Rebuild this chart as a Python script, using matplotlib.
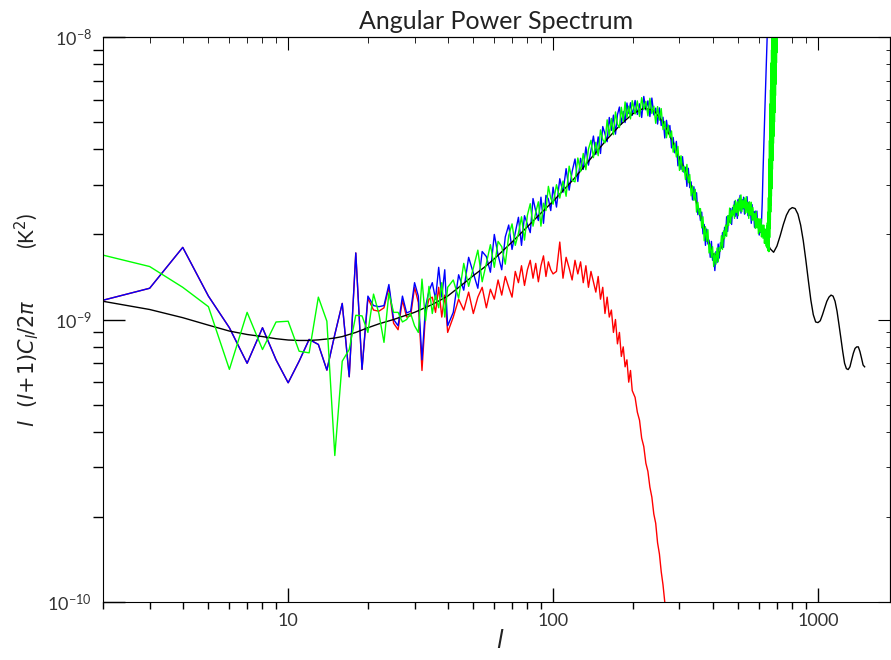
import numpy as np
import matplotlib.pyplot as plt
from matplotlib import ticker

plt.rcParams['font.family'] = ['Lato', 'DejaVu Sans']
plt.rcParams['mathtext.fontset'] = 'dejavusans'

# multipoles of the measured spectra
ell = np.concatenate([np.arange(2, 41), np.arange(42, 101, 2),
                      np.arange(103, 200, 3), np.arange(204, 641, 4)])

# values in units of 1e-9 K^2
blue = [1.17, 1.29, 1.80, 1.21, 0.935, 0.70, 0.935, 0.72, 0.597, 0.712,
        0.85, 0.816, 0.662, 0.885, 1.14, 0.627, 1.72, 0.666, 1.21, 1.12,
        1.11, 1.12, 1.33, 1.00, 0.95, 1.21, 1.055, 1.07, 1.35, 1.21,
        0.72, 1.11, 1.26, 1.35, 1.18, 1.53, 1.20, 1.50, 0.95,
        # 42..100
        1.06, 1.44, 1.27, 1.66, 1.46, 1.29, 1.74, 1.67, 1.47, 2.00,
        1.69, 1.50, 1.96, 2.16, 1.77, 2.03, 2.30, 1.83, 2.33, 2.17,
        2.03, 2.68, 2.42, 2.24, 2.71, 2.19, 2.75, 2.67, 2.43, 2.94,
        # 103..199
        2.50, 3.15, 2.82, 3.42, 2.87, 3.34, 3.70, 3.08, 3.72, 3.40,
        4.08, 3.52, 3.96, 4.46, 3.84, 4.43, 3.87, 4.82, 4.54, 4.26,
        5.19, 4.67, 5.29, 4.53, 5.31, 5.65, 4.91, 5.45, 4.98, 5.84,
        5.36, 5.85, 5.28,
        # 204..640
        5.96, 5.32, 5.80, 5.19, 6.16, 5.52, 5.94, 5.23, 6.08, 5.30,
        5.60, 4.92, 5.61, 4.86, 5.20, 4.39, 5.07, 4.56, 4.86, 4.05,
        4.41, 3.89, 4.27, 3.50, 3.77, 3.40, 3.77, 3.32, 3.46, 2.96,
        3.43, 2.93, 3.07, 2.65, 2.95, 2.65, 2.81, 2.35, 2.47, 2.24,
        2.40, 2.01, 2.17, 1.83, 2.09, 1.85, 1.91, 1.66, 1.89, 1.62,
        1.70, 1.49, 1.74, 1.59, 1.85, 1.65, 1.87, 1.79, 2.03, 1.80,
        2.12, 1.98, 2.31, 2.05, 2.33, 2.21, 2.47, 2.17, 2.49, 2.35,
        2.62, 2.32, 2.54, 2.28, 2.66, 2.49, 2.75, 2.38, 2.66, 2.46,
        2.71, 2.36, 2.63, 2.46, 2.72, 2.33, 2.60, 2.34, 2.49, 2.19,
        2.55, 2.26, 2.41, 2.12, 2.42, 2.12, 2.42, 2.12, 2.22, 1.99,
        2.25, 2.03, 2.21, 2.60, 3.30, 4.00, 4.90, 6.00, 7.30, 8.80]
blue_tail_ell = [644, 648, 652, 656]
blue_tail = [10.5, 12.5, 15.0, 18.0]

green = [1.69, 1.54, 1.30, 1.11, 0.666, 1.06, 0.783, 0.98, 0.986, 0.772,
         0.762, 1.20, 0.986, 0.33, 0.712, 0.783, 1.035, 1.03, 0.90, 1.23,
         1.05, 0.83, 1.24, 1.06, 1.06, 0.98, 1.00, 1.05, 0.95, 0.90,
         1.39, 0.99, 1.31, 1.05, 1.22, 1.10, 1.35, 1.02, 1.30,
         # 42..100
         1.38, 1.19, 1.58, 1.31, 1.52, 1.76, 1.36, 1.58, 1.84, 1.53,
         1.89, 1.81, 1.57, 1.98, 2.18, 1.83, 2.02, 2.31, 1.91, 2.34,
         2.57, 2.14, 2.39, 2.61, 2.14, 2.58, 2.43, 2.96, 2.69, 2.56,
         # 103..199
         3.00, 2.69, 3.09, 2.73, 3.49, 3.11, 3.07, 3.73, 3.34, 3.87,
         3.39, 4.01, 4.31, 3.74, 4.24, 3.80, 4.69, 4.33, 4.22, 5.09,
         4.48, 5.15, 4.51, 5.43, 4.91, 4.78, 5.64, 5.03, 5.89, 5.19,
         5.69, 5.13, 5.95,
         # 204..640
         5.34, 5.94, 5.23, 6.10, 5.53, 5.92, 5.26, 6.07, 5.36, 5.69,
         4.95, 5.67, 5.08, 5.58, 4.70, 5.03, 4.40, 4.88, 4.41, 4.65,
         3.91, 4.21, 3.76, 4.10, 3.37, 3.80, 3.34, 3.49, 3.13, 3.54,
         3.05, 3.26, 2.74, 2.97, 2.64, 2.89, 2.40, 2.60, 2.35, 2.47,
         2.11, 2.31, 1.90, 2.13, 1.89, 2.08, 1.72, 1.85, 1.66, 1.81,
         1.54, 1.72, 1.57, 1.79, 1.60, 1.80, 1.75, 1.98, 1.77, 2.06,
         1.94, 2.16, 1.97, 2.33, 2.15, 2.48, 2.19, 2.43, 2.32, 2.54,
         2.28, 2.64, 2.39, 2.61, 2.33, 2.69, 2.42, 2.76, 2.41, 2.64,
         2.48, 2.69, 2.37, 2.72, 2.39, 2.60, 2.28, 2.61, 2.34, 2.60,
         2.24, 2.49, 2.25, 2.37, 2.10, 2.41, 2.11, 2.28, 2.01, 2.27,
         2.04, 2.27, 1.96, 2.16, 1.94, 2.16, 1.86, 2.09, 1.82, 2.02]
green_tail_ell = np.arange(642, 705)
green_tail = [2.15, 1.80, 2.20, 1.78, 2.28, 1.76, 2.40, 1.75, 2.70, 1.74,
              3.05, 1.74, 3.70, 1.85, 4.30, 1.95, 5.00, 2.10, 5.80, 2.25,
              6.50, 2.40, 7.40, 2.55, 8.10, 2.73, 9.00, 2.90, 10.0, 3.10,
              11.0, 3.40, 12.0, 3.65, 13.0, 3.90, 14.0, 4.20, 15.0, 4.45,
              16.0, 4.70, 17.0, 5.00, 18.0, 5.40, 19.0, 5.80, 20.0, 6.20,
              21.0, 6.80, 22.0, 7.40, 23.0, 8.10, 25.0, 8.80, 27.0, 9.50,
              28.0, 10.5, 30.0]

red = [1.17, 1.29, 1.80, 1.21, 0.935, 0.70, 0.935, 0.72, 0.597, 0.712,
       0.85, 0.816, 0.662, 0.885, 1.14, 0.627, 1.72, 0.666, 1.19, 1.08,
       1.07, 1.10, 1.30, 0.97, 0.92, 1.17, 1.02, 1.03, 1.30, 1.15,
       0.66, 1.05, 1.18, 1.20, 1.06, 1.30, 1.02, 1.22, 0.90,
       # 42..100
       1.02, 1.18, 1.08, 1.25, 1.05, 1.20, 1.30, 1.10, 1.28, 1.18,
       1.38, 1.22, 1.42, 1.30, 1.20, 1.48, 1.35, 1.55, 1.32, 1.50,
       1.62, 1.40, 1.58, 1.36, 1.55, 1.68, 1.42, 1.60, 1.50, 1.45,
       # 103..199
       1.48, 1.88, 1.40, 1.66, 1.52, 1.38, 1.62, 1.45, 1.60, 1.35,
       1.55, 1.30, 1.48, 1.36, 1.25, 1.42, 1.18, 1.30, 1.05, 1.20,
       1.02, 1.08, 0.90, 1.00, 0.82, 0.90, 0.74, 0.80, 0.68, 0.72,
       0.60, 0.66, 0.56,
       # 204..268
       0.53, 0.47, 0.44, 0.38, 0.355, 0.31, 0.29, 0.255, 0.235, 0.205,
       0.19, 0.162, 0.148, 0.128, 0.115, 0.100, 0.088]

# theoretical spectrum
ell_th = [2, 3, 4, 5, 6, 7, 8, 9, 10, 11, 12, 13, 14, 15, 16, 18, 20, 22, 25,
          30, 35, 40, 45, 50, 55, 60, 70, 80, 90, 100, 120, 140, 160, 180,
          200, 220, 240, 260, 280, 300, 320, 340, 360, 380, 400, 420, 440,
          460, 480, 500, 520, 540, 560, 580, 600, 620, 640, 660, 680, 700,
          720, 740, 760, 780, 800, 820, 840, 860, 880, 900, 920, 940, 960,
          980, 1000, 1020, 1040, 1060, 1080, 1100, 1120, 1140, 1160, 1180,
          1200, 1220, 1240, 1260, 1280, 1300, 1320, 1340, 1360, 1380, 1400,
          1420, 1440, 1460, 1480, 1500]
cl_th = [1.16, 1.085, 1.015, 0.955, 0.91, 0.885, 0.87, 0.855, 0.846, 0.843,
         0.843, 0.847, 0.853, 0.86, 0.87, 0.90, 0.935, 0.965, 1.0, 1.06,
         1.13, 1.21, 1.32, 1.43, 1.53, 1.64, 1.88, 2.13, 2.38, 2.62, 3.15,
         3.75, 4.35, 4.90, 5.35, 5.60, 5.50, 5.00, 4.35, 3.72, 3.25, 2.78,
         2.33, 1.97, 1.71, 1.68, 1.93, 2.22, 2.40, 2.52, 2.57, 2.55, 2.45,
         2.30, 2.15, 2.02, 1.90, 1.78, 1.73, 1.82, 1.98, 2.17, 2.34, 2.45,
         2.49, 2.47, 2.36, 2.16, 1.90, 1.62, 1.37, 1.17, 1.04, 0.98, 0.975,
         0.99, 1.04, 1.10, 1.16, 1.20, 1.22, 1.21, 1.16, 1.07, 0.96, 0.86,
         0.77, 0.70, 0.67, 0.665, 0.68, 0.72, 0.76, 0.79, 0.80, 0.80, 0.77,
         0.73, 0.69, 0.68]

scale = 1e-9

fig = plt.figure(figsize=(8.91, 6.6), dpi=100)
ax = fig.add_axes([103 / 891, 58 / 660, 787 / 891, 565 / 660])

ax.plot(ell[:len(red)], np.array(red) * scale, color='#ff0000', lw=1.0)
ax.plot(np.concatenate([ell, blue_tail_ell]),
        np.concatenate([blue, blue_tail]) * scale, color='#0000ff', lw=1.0)
ax.plot(ell_th, np.array(cl_th) * scale, color='black', lw=1.0)
ax.plot(np.concatenate([ell, green_tail_ell]),
        np.concatenate([green, green_tail]) * scale, color='#00ff00', lw=1.0)

ax.set_xscale('log')
ax.set_yscale('log')
ax.set_xlim(2, 1870)
ax.set_ylim(1e-10, 1e-8)

ax.xaxis.set_major_formatter(ticker.FormatStrFormatter('%d'))
ax.xaxis.set_minor_formatter(ticker.NullFormatter())
ax.tick_params(direction='in', labelsize=13, labelcolor='#333333', pad=8)
ax.tick_params(axis='x', which='major', length=10, width=1)
ax.tick_params(axis='x', which='minor', length=5, width=1)
ax.tick_params(axis='y', which='major', length=16, width=1)
ax.tick_params(axis='y', which='minor', length=7, width=1)

# shorter ticks on the opposite sides
top = ax.secondary_xaxis('top')
top.tick_params(direction='in', which='major', length=9, labeltop=False)
top.tick_params(direction='in', which='minor', length=4, labeltop=False)
right = ax.secondary_yaxis('right')
right.tick_params(direction='in', which='major', length=9, labelright=False)
right.tick_params(direction='in', which='minor', length=3, labelright=False)

ax.set_title('Angular Power Spectrum', fontsize=18, color='#222222', pad=6)

fig.text(27 / 891, 1 - 320 / 660,
         r'$l\ \ (l\!+\!1)C_l/2\pi$' + '          (K$^2$)',
         rotation=90, ha='center', va='center', fontsize=15, color='#222222')
fig.text(500 / 891, 1 - 640 / 660, r'$l$', ha='center', va='center',
         fontsize=17, color='#222222')

fig.savefig('out.png', dpi=100)
